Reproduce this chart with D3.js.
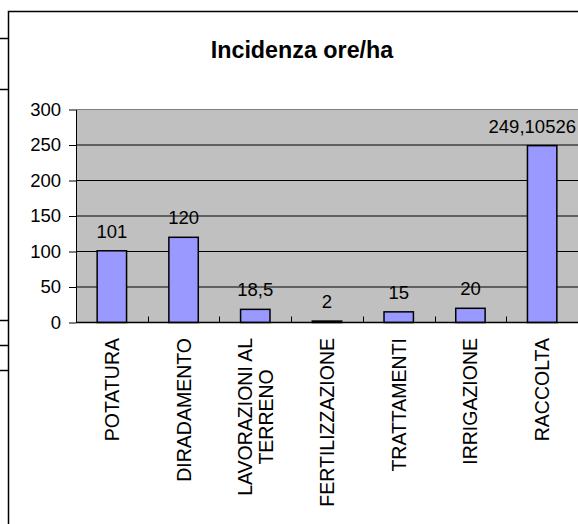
<!DOCTYPE html>
<html>
<head>
<meta charset="utf-8">
<script src="https://cdn.jsdelivr.net/npm/d3@7"></script>
<style>
  body { margin: 0; background: #fff; }
  svg { display: block; font-family: "Liberation Sans", Arial, sans-serif; }
</style>
</head>
<body>
<div id="vis"></div>
<script>
// data
const categories = ["POTATURA", "DIRADAMENTO", "LAVORAZIONI AL\nTERRENO", "FERTILIZZAZIONE", "TRATTAMENTI", "IRRIGAZIONE", "RACCOLTA"];
const values = [101, 120, 18.5, 2, 15, 20, 249.10526];
const valueLabels = ["101", "120", "18,5", "2", "15", "20", "249,10526"];
const yTicks = [0, 50, 100, 150, 200, 250, 300];
const title = "Incidenza ore/ha";

const width = 578, height = 524;
const plot = { left: 76, right: 578, top: 109.5, bottom: 322.5 };

const svg = d3.select("#vis").append("svg")
  .attr("width", width)
  .attr("height", height);

// cell borders of the sheet behind the chart
svg.append("g")
  .selectAll("line")
  .data([38.5, 89.5, 320.5, 345.5, 370.5])
  .join("line")
  .attr("x1", 0).attr("x2", 8)
  .attr("y1", d => d).attr("y2", d => d)
  .attr("stroke", "#000")
  .attr("stroke-width", 1.5);

// chart area frame
svg.append("rect")
  .attr("x", 8.5).attr("y", 11.5)
  .attr("width", 600).attr("height", 600)
  .attr("fill", "#fff")
  .attr("stroke", "#000")
  .attr("stroke-width", 1.5);

svg.append("text")
  .attr("x", 302)
  .attr("y", 58)
  .attr("text-anchor", "middle")
  .attr("font-size", 23.3)
  .attr("font-weight", "bold")
  .text(title);

const y = d3.scaleLinear().domain([0, 300]).range([plot.bottom, plot.top]);
const xCat = d3.scaleBand().domain(categories).range([plot.left, plot.right]).padding(0);
const x = d3.scaleBand().domain(categories).range([plot.left, plot.right])
  .paddingInner(0.59).paddingOuter(0.295);

// plot background
svg.append("rect")
  .attr("x", plot.left).attr("y", plot.top)
  .attr("width", plot.right - plot.left + 10)
  .attr("height", plot.bottom - plot.top)
  .attr("fill", "#c0c0c0");

// gridlines
svg.append("g")
  .selectAll("line")
  .data(yTicks.filter(d => d > 0))
  .join("line")
  .attr("x1", plot.left).attr("x2", width)
  .attr("y1", d => y(d)).attr("y2", d => y(d))
  .attr("stroke", d => d === 300 ? "#808080" : "#000")
  .attr("stroke-width", 1);

// y axis
const yAxis = svg.append("g")
  .attr("transform", `translate(${plot.left},0)`)
  .call(d3.axisLeft(y).tickValues(yTicks).tickSize(7).tickSizeOuter(0).tickPadding(8));
yAxis.select(".domain").attr("stroke", "#000");
yAxis.selectAll(".tick line").attr("stroke", "#000");
yAxis.selectAll(".tick text")
  .attr("font-size", 18.5)
  .attr("font-family", "'Liberation Sans', Arial, sans-serif")
  .attr("fill", "#000");

// bars
svg.append("g")
  .selectAll("rect")
  .data(values)
  .join("rect")
  .attr("x", (d, i) => x(categories[i]))
  .attr("y", d => y(d))
  .attr("width", x.bandwidth())
  .attr("height", d => y(0) - y(d))
  .attr("fill", "#9999ff")
  .attr("stroke", "#000")
  .attr("stroke-width", 1.5);

// x axis line and inside ticks between categories
svg.append("line")
  .attr("x1", plot.left).attr("x2", width)
  .attr("y1", y(0)).attr("y2", y(0))
  .attr("stroke", "#000")
  .attr("stroke-width", 1.5);
svg.append("g")
  .selectAll("line")
  .data(categories.slice(1))
  .join("line")
  .attr("x1", d => Math.round(xCat(d)) + 0.5)
  .attr("x2", d => Math.round(xCat(d)) + 0.5)
  .attr("y1", y(0)).attr("y2", y(0) - 6)
  .attr("stroke", "#000");

// value labels, kept inside the chart area
svg.append("g")
  .selectAll("text")
  .data(values)
  .join("text")
  .attr("x", (d, i) => x(categories[i]) + x.bandwidth() / 2)
  .attr("y", d => y(d) - 13)
  .attr("text-anchor", "middle")
  .attr("font-size", 18.5)
  .text((d, i) => valueLabels[i])
  .each(function () {
    const b = this.getBBox();
    if (b.x + b.width > 576) {
      d3.select(this).attr("x", +d3.select(this).attr("x") - (b.x + b.width - 576));
    }
  });

// rotated category labels
const labelTop = y(0) + 15.5;
const lineGap = 21.5;
svg.append("g")
  .selectAll("g")
  .data(categories)
  .join("g")
  .each(function (d) {
    const lines = d.split("\n");
    const cx = xCat(d) + xCat.bandwidth() / 2;
    const g = d3.select(this);
    const texts = lines.map((t, k) => g.append("text")
      .attr("text-anchor", "middle")
      .attr("font-size", 19.5)
      .text(t));
    const maxLen = d3.max(texts, t => t.node().getComputedTextLength());
    texts.forEach((t, k) => {
      const off = (k - (lines.length - 1) / 2) * lineGap;
      const tx = cx + off + 7;
      const ty = labelTop + maxLen / 2;
      t.attr("transform", `translate(${tx},${ty}) rotate(-90)`);
    });
  });
</script>
</body>
</html>
